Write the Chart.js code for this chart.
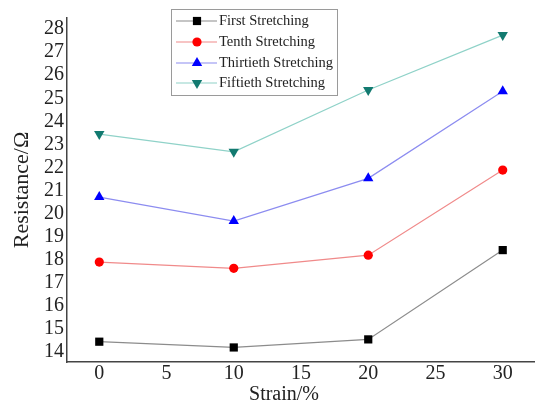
<!DOCTYPE html>
<html>
<head>
<meta charset="utf-8">
<script src="https://cdn.jsdelivr.net/npm/chart.js@4.4.0/dist/chart.umd.min.js"></script>
<style>
  html, body { margin: 0; padding: 0; background: #fff; }
  #wrap { width: 535px; height: 408px; }
</style>
</head>
<body>
<div id="wrap"><canvas id="chart" width="535" height="408"></canvas></div>
<script>
// values
const strain = [0, 10, 20, 30]
const firstStretch = [14.45, 14.2, 14.55, 18.42]
const tenthStretch = [17.9, 17.63, 18.2, 21.89]
const thirtiethStretch = [20.72, 19.68, 21.53, 25.31]
const fiftiethStretch = [23.45, 22.68, 25.36, 27.74]
const xTicks = [0, 5, 10, 15, 20, 25, 30]
const yTicks = [14, 15, 16, 17, 18, 19, 20, 21, 22, 23, 24, 25, 26, 27, 28]

const serif = "'Liberation Serif', 'DejaVu Serif', serif"

function pts(vals) {
  return strain.map((x, i) => ({ x: x, y: vals[i] }))
}

function series(label, vals, line, fill, style, radius, rotation) {
  return {
    label: label,
    data: pts(vals),
    borderColor: line,
    borderWidth: 1.2,
    pointStyle: style,
    pointRadius: radius,
    pointRotation: rotation,
    pointBackgroundColor: fill,
    pointBorderColor: fill,
    pointBorderWidth: 0,
    tension: 0,
    showLine: true,
  }
}

const datasets = [
  series("First Stretching", firstStretch, "#8c8c8c", "#000000", "rect", 5.8, 0),
  series("Tenth Stretching", tenthStretch, "#f08a8a", "#ff0000", "circle", 4.6, 0),
  series("Thirtieth Stretching", thirtiethStretch, "#8c8cf0", "#0000ff", "triangle", 6, 0),
  series("Fiftieth Stretching", fiftiethStretch, "#8fd2c8", "#127a70", "triangle", 6, 180),
]

// legend drawn as "—marker—text" rows inside a box, plus the x title
// which sits left of the axis centre in the reference
const lineLegend = {
  id: "lineLegend",
  afterDraw(chart) {
    const ctx = chart.ctx
    ctx.save()
    ctx.strokeStyle = "#9a9a9a"
    ctx.lineWidth = 1
    ctx.strokeRect(171.5, 9.5, 166, 86)
    const rows = [21, 42, 63, 83]
    chart.data.datasets.forEach((ds, i) => {
      const y = rows[i]
      ctx.strokeStyle = ds.borderColor
      ctx.lineWidth = 1.2
      ctx.beginPath()
      ctx.moveTo(176, y)
      ctx.lineTo(217, y)
      ctx.stroke()
      ctx.fillStyle = ds.pointBackgroundColor
      Chart.helpers.drawPoint(ctx, {
        pointStyle: ds.pointStyle,
        radius: ds.pointRadius,
        rotation: ds.pointRotation,
        borderWidth: 0,
      }, 197, y)
      ctx.fillStyle = "#222"
      ctx.font = "14.5px " + serif
      ctx.textBaseline = "middle"
      ctx.textAlign = "left"
      ctx.fillText(ds.label, 219, y)
    })
    ctx.font = "20px " + serif
    ctx.textAlign = "center"
    ctx.textBaseline = "middle"
    ctx.fillText("Strain/%", 284, 395)
    ctx.restore()
  }
}

new Chart(document.getElementById("chart"), {
  type: "scatter",
  data: { datasets: datasets },
  plugins: [lineLegend],
  options: {
    responsive: false,
    animation: false,
    devicePixelRatio: 1,
    layout: { autoPadding: false, padding: { top: 18, right: 0, left: 0, bottom: 0 } },
    plugins: { legend: { display: false }, tooltip: { enabled: false } },
    scales: {
      x: {
        type: "linear",
        min: -2.4,
        max: 32.4,
        afterBuildTicks: (s) => { s.ticks = xTicks.map(v => ({ value: v })) },
        afterFit: (s) => { s.height = 46; s.paddingRight = 0; s.paddingLeft = 0 },
        grid: { display: false, drawTicks: false },
        border: { display: true, color: "#444", width: 1.5 },
        ticks: { color: "#222", font: { family: serif, size: 20 }, padding: 0, maxRotation: 0, autoSkip: false },
        title: { display: false },
      },
      y: {
        type: "linear",
        min: 13.57,
        max: 28.48,
        afterBuildTicks: (s) => { s.ticks = yTicks.map(v => ({ value: v })) },
        afterFit: (s) => { s.width = 67; s.paddingTop = 0; s.paddingBottom = 0 },
        grid: { display: false, drawTicks: false },
        border: { display: true, color: "#444", width: 1.5 },
        ticks: { color: "#222", font: { family: serif, size: 20 }, padding: 3, autoSkip: false },
        title: { display: true, text: "Resistance/Ω", color: "#222", font: { family: serif, size: 22 }, padding: { top: 9, bottom: 0 } },
      },
    },
  },
})
</script>
</body>
</html>
